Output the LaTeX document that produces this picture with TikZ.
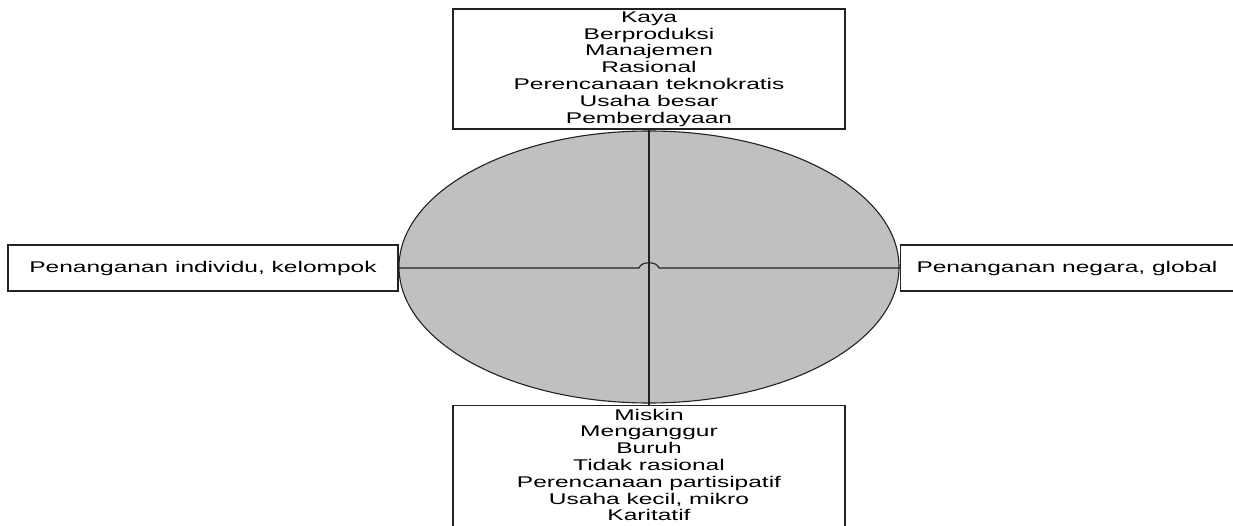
\documentclass[tikz,border=0pt]{standalone}
\usepackage{fontspec}
\setmainfont[FakeStretch=1.58]{Liberation Sans}
\usetikzlibrary{shapes.geometric}
\definecolor{ellfill}{HTML}{C0C0C0}
\definecolor{linec}{HTML}{222222}
\begin{document}
\begin{tikzpicture}[x=1pt,y=-1pt,
  every node/.style={font=\fontsize{15.5}{16.8}\selectfont, inner sep=0pt},
  boxstyle/.style={draw=linec, line width=1.1pt, fill=white, rectangle},
  conn/.style={draw=linec, line width=1.1pt},
  txt/.style={align=center, text=black}]
\useasboundingbox (0,0) rectangle (1233,526);
\begin{scope}
\clip (0,0) rectangle (1233,526);
\node[draw=linec, line width=1.1pt, fill=ellfill, ellipse, minimum width=500pt, minimum height=272pt] (ell) at (649,267) {};
\node[boxstyle, minimum width=392pt, minimum height=120pt, txt] (top) at (649,69)
  {Kaya\\Berproduksi\\Manajemen\\Rasional\\Perencanaan teknokratis\\Usaha besar\\Pemberdayaan};
\node[boxstyle, minimum width=392pt, minimum height=160pt, anchor=north] (bot) at (649,405) {};
\node[txt] (bottxt) at (649,465)
  {Miskin\\Menganggur\\Buruh\\Tidak rasional\\Perencanaan partisipatif\\Usaha kecil, mikro\\Karitatif};
\node[boxstyle, minimum width=390pt, minimum height=46pt, txt] (left) at (203,268) {Penanganan individu, kelompok};
\node[boxstyle, minimum width=340pt, minimum height=46pt, anchor=west] (right) at (900,268) {};
\node[txt] (righttxt) at (1067,268) {Penanganan negara, global};
\coordinate (hopa) at (639,268);
\coordinate (hopb) at (659,268);
\draw[conn] (top.south) -- (bot.north);
\draw[conn] (left.east) -- (hopa) .. controls (641,261) and (657,261) .. (hopb) -- (right.west);
\end{scope}
\end{tikzpicture}
\end{document}
